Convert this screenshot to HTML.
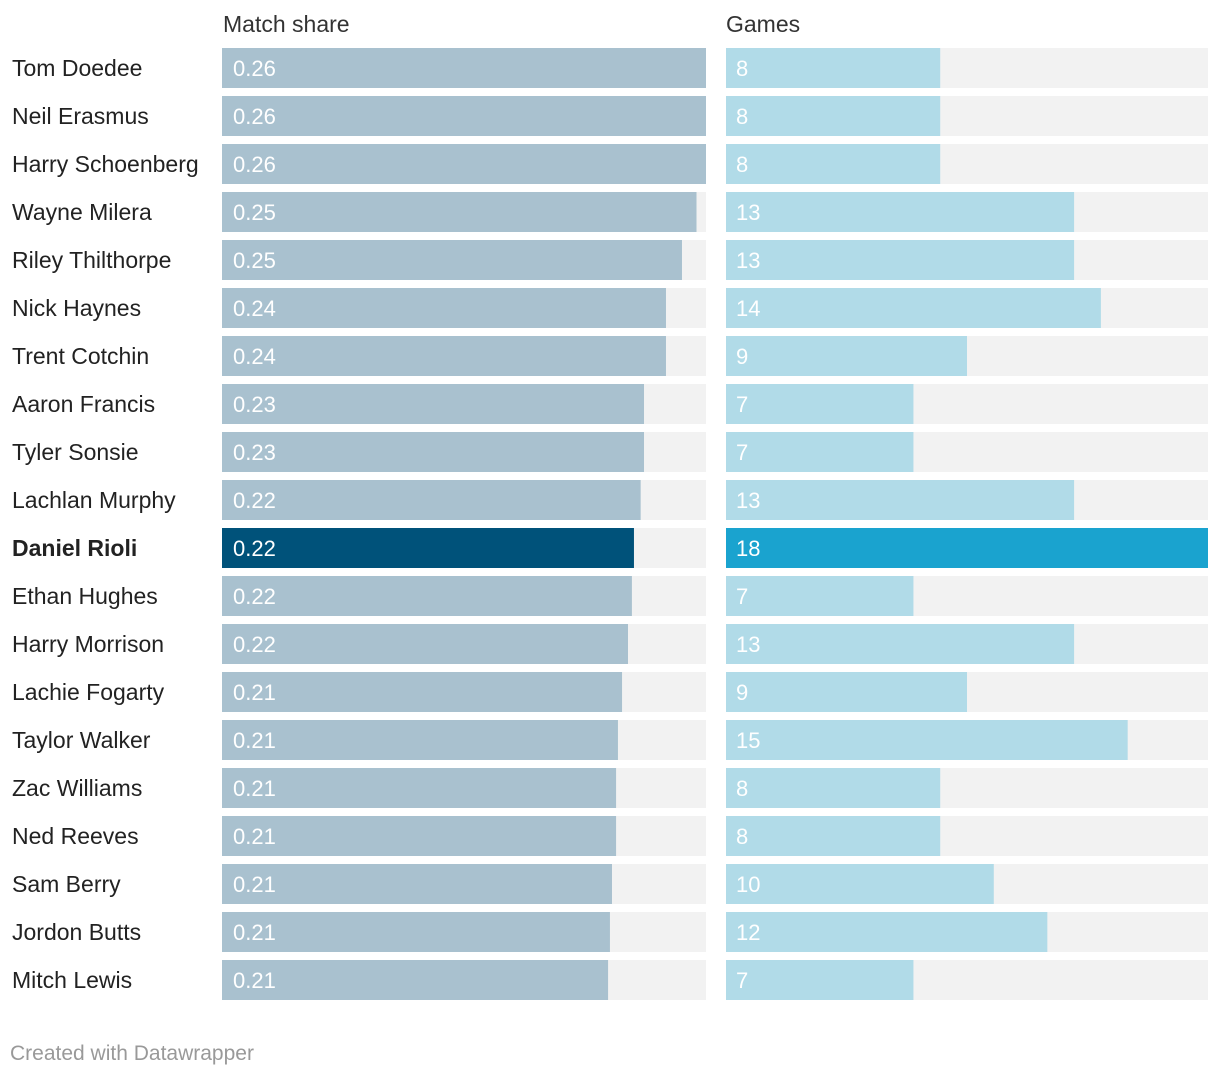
<!DOCTYPE html>
<html><head><meta charset="utf-8"><style>
body{margin:0;background:#fff;font-family:"Liberation Sans",sans-serif;}
svg text{font-family:"Liberation Sans",sans-serif;}
</style></head><body>
<svg id="chart" width="1220" height="1076">
<text x="223" y="32" font-size="23" fill="#333">Match share</text>
<text x="726" y="32" font-size="23" fill="#333">Games</text>
<text x="10" y="1060" font-size="21" fill="#999">Created with Datawrapper</text>
</svg>
<script>
const players=["Tom Doedee","Neil Erasmus","Harry Schoenberg","Wayne Milera","Riley Thilthorpe","Nick Haynes","Trent Cotchin","Aaron Francis","Tyler Sonsie","Lachlan Murphy","Daniel Rioli","Ethan Hughes","Harry Morrison","Lachie Fogarty","Taylor Walker","Zac Williams","Ned Reeves","Sam Berry","Jordon Butts","Mitch Lewis"];
const matchShare=[0.26,0.26,0.26,0.2549,0.2471,0.2385,0.2385,0.2267,0.2267,0.2249,0.2213,0.2202,0.2181,0.2149,0.2127,0.2117,0.2117,0.2095,0.2084,0.2074];
const games=[8,8,8,13,13,14,9,7,7,13,18,7,13,9,15,8,8,10,12,7];
const highlight="Daniel Rioli";
const svg=document.getElementById('chart');
const NS='http://www.w3.org/2000/svg';
const shareMax=Math.max(...matchShare), gamesMax=Math.max(...games);
const xShare=v=>v/shareMax*484, xGames=v=>v/gamesMax*482;
function mk(tag,attrs){const e=document.createElementNS(NS,tag);for(const k in attrs)e.setAttribute(k,attrs[k]);svg.appendChild(e);return e;}
players.forEach((p,i)=>{
  const y=48+i*48, hi=p===highlight;
  const lab=mk('text',{x:12,y:y+28,'font-size':23,fill:'#222','font-weight':hi?'bold':'normal'});
  lab.textContent=p;
  
  
  const t1=mk('rect',{x:222,y:y,width:484,height:40,fill:'#f2f2f2'});
  
  
  const b1=mk('rect',{x:222,y:y,width:xShare(matchShare[i]),height:40,fill:hi?'#00527a':'#a9c1cf'});
  
  
  const v1=mk('text',{x:233,y:y+28,'font-size':22,fill:'#fff'});
  v1.textContent=matchShare[i].toFixed(2);
  
  
  const t2=mk('rect',{x:726,y:y,width:482,height:40,fill:'#f2f2f2'});
  
  
  const b2=mk('rect',{x:726,y:y,width:xGames(games[i]),height:40,fill:hi?'#1aa3cf':'#b1dbe8'});
  
  
  const v2=mk('text',{x:736,y:y+28,'font-size':22,fill:'#fff'});
  v2.textContent=games[i];
  
  
});
</script>
</body></html>
